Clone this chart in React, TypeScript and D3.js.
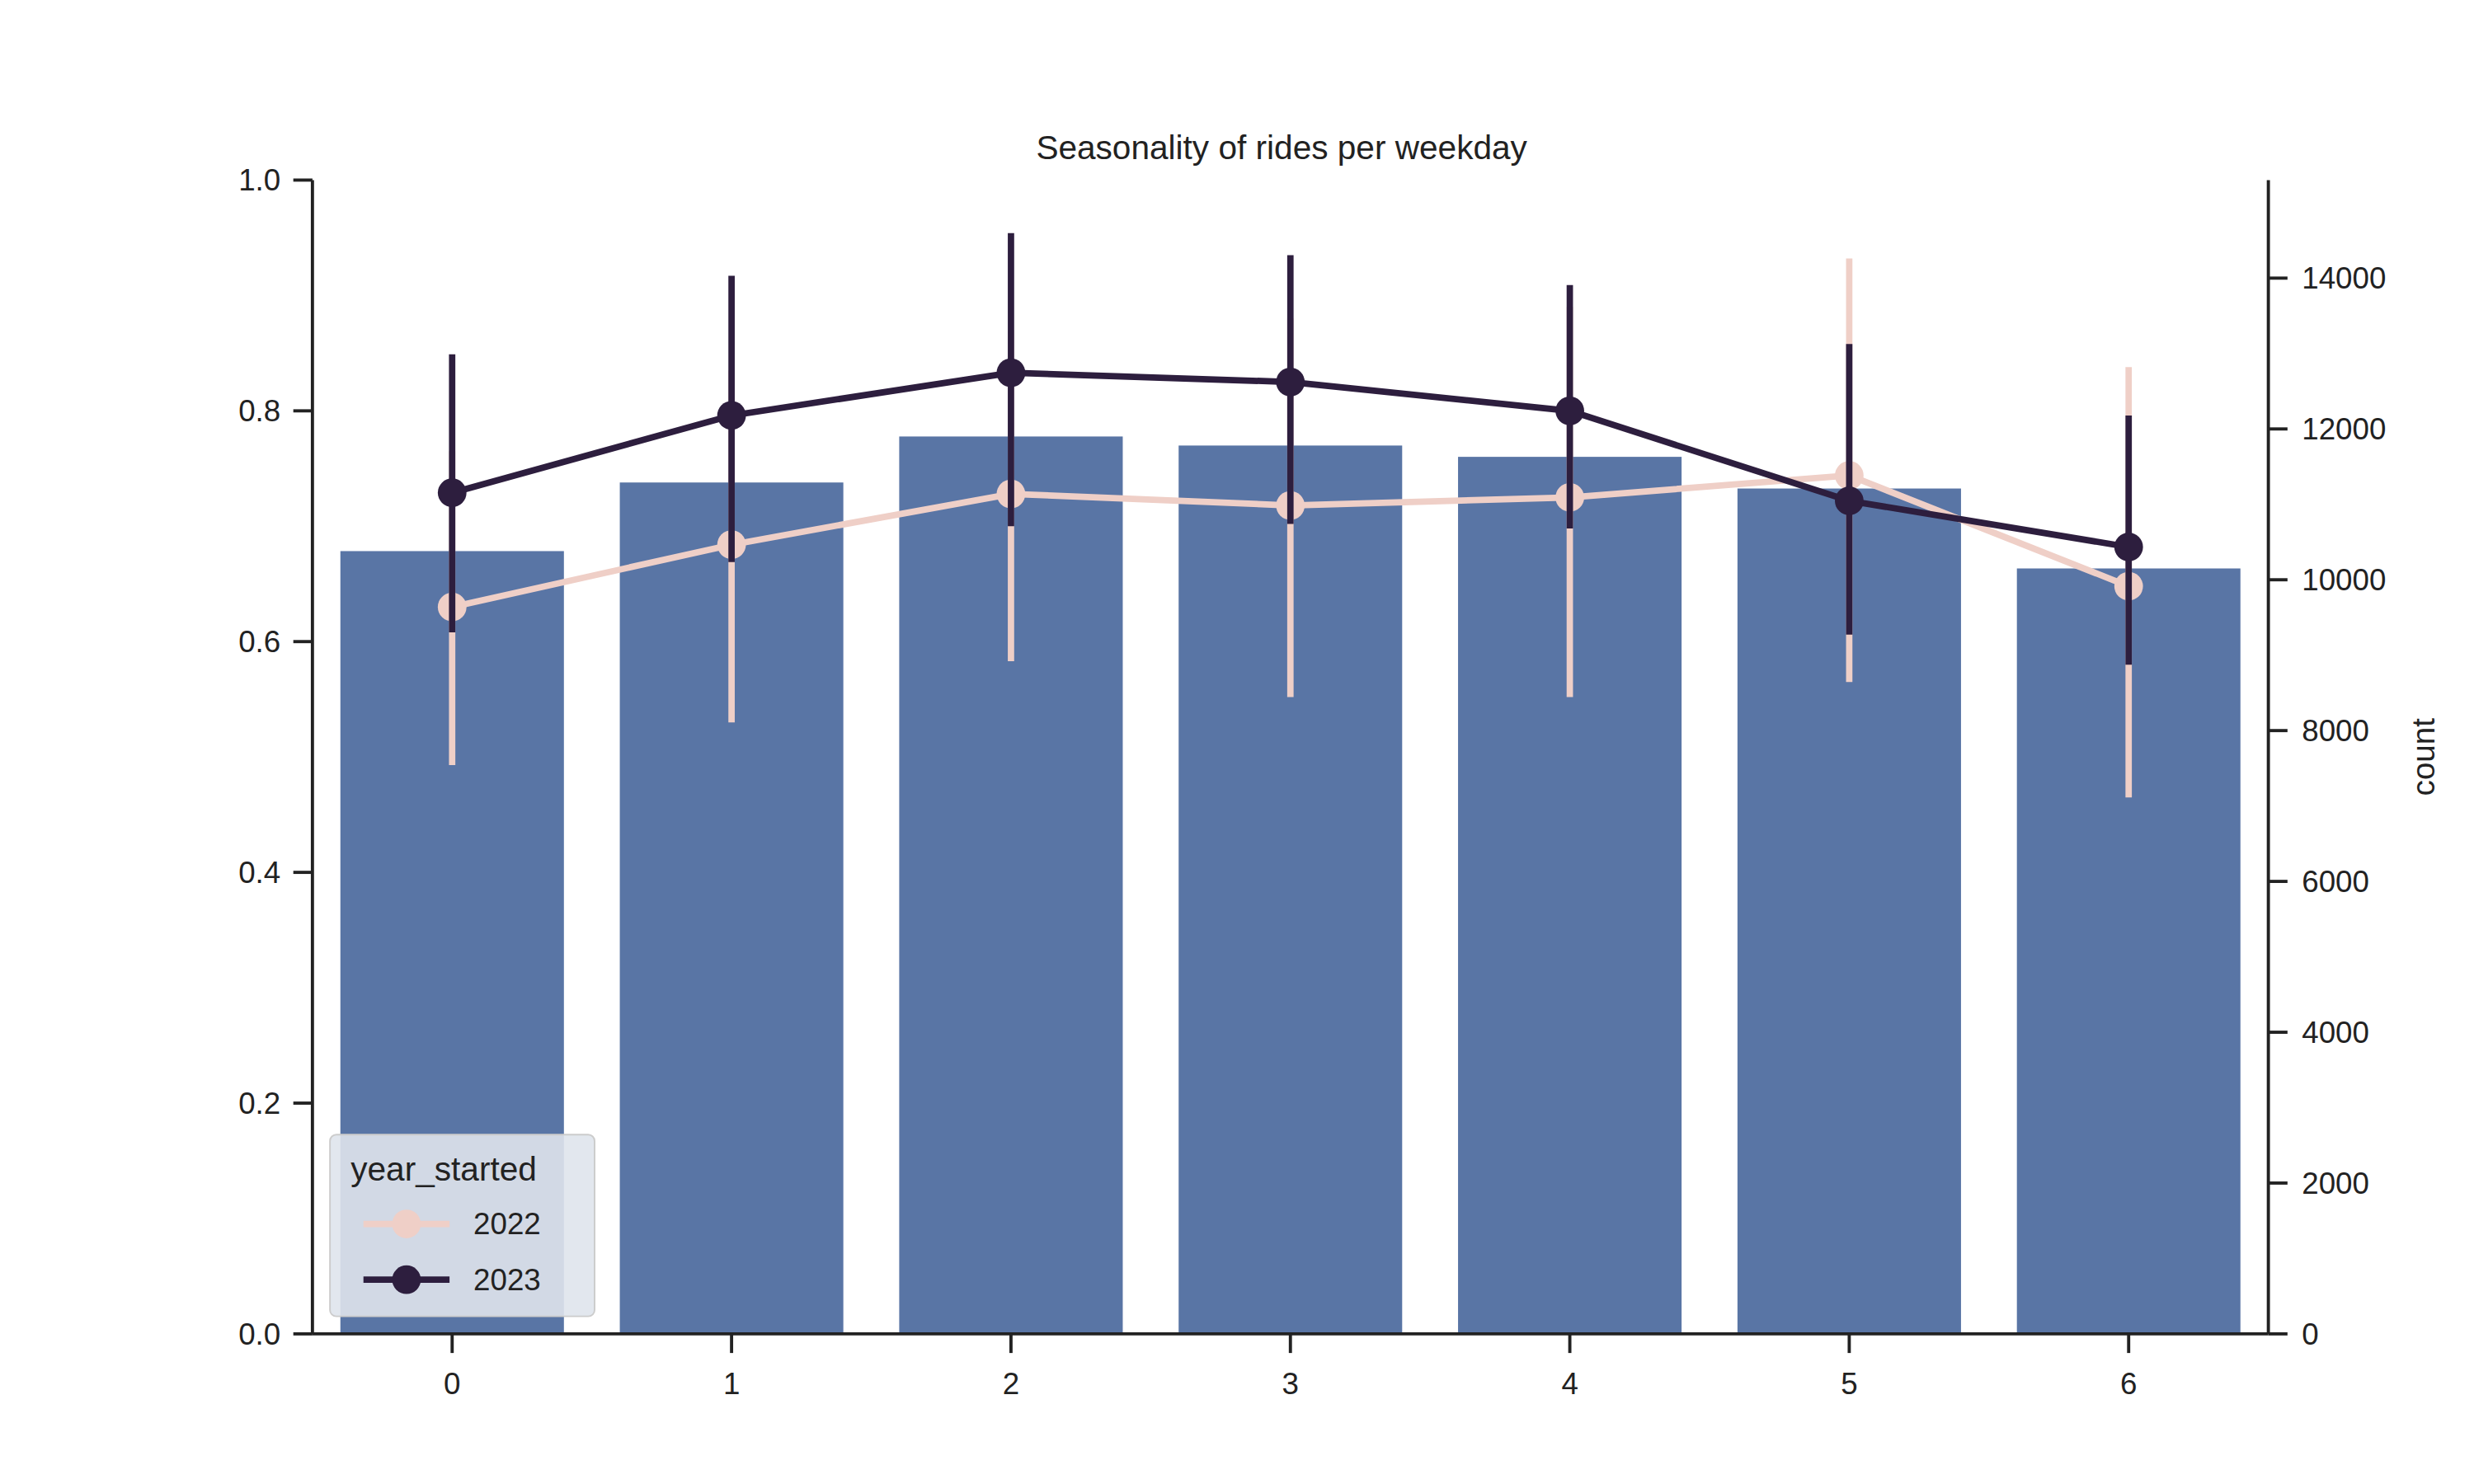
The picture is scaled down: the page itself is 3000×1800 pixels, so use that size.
import * as d3 from 'd3';
import React from 'react';

const weekdays = ['0', '1', '2', '3', '4', '5', '6'];
const counts = [10380, 11290, 11900, 11780, 11630, 11210, 10150];

const y2022 = [0.630, 0.684, 0.728, 0.718, 0.725, 0.744, 0.648];
const lo2022 = [0.493, 0.530, 0.583, 0.552, 0.552, 0.565, 0.465];
const hi2022 = [0.765, 0.835, 0.870, 0.880, 0.890, 0.932, 0.838];

const y2023 = [0.729, 0.796, 0.833, 0.825, 0.800, 0.722, 0.682];
const lo2023 = [0.608, 0.669, 0.700, 0.702, 0.698, 0.606, 0.580];
const hi2023 = [0.849, 0.917, 0.954, 0.935, 0.909, 0.858, 0.796];

const leftTicks = [0, 0.2, 0.4, 0.6, 0.8, 1.0];
const rightTicks = [0, 2000, 4000, 6000, 8000, 10000, 12000, 14000];

const C22 = '#efcfc7';
const C23 = '#2d1e3e';
const BAR = '#5975a5';
const FONT = 'Liberation Sans, Arial, sans-serif';

const App: React.FC = () => {
  const L = 196, R = 1423, T = 113, B = 837;
  const x = d3.scaleBand<string>().domain(weekdays).range([L, R]).paddingInner(0.2).paddingOuter(0.1);
  const yl = d3.scaleLinear().domain([0, 1]).range([B, T]);
  const yr = d3.scaleLinear().domain([0, 15300]).range([B, T]);
  const cx = (i: number) => (x(weekdays[i]) ?? 0) + x.bandwidth() / 2;
  const line = d3.line<number>().x((_d, i) => cx(i)).y(d => yl(d));

  const series = [
    { name: '2022', c: C22, v: y2022, lo: lo2022, hi: hi2022 },
    { name: '2023', c: C23, v: y2023, lo: lo2023, hi: hi2023 },
  ];

  return (
    <svg width={3000} height={1800} viewBox="0 0 1552 931.2"
      style={{ position: 'absolute', left: 0, top: 0, background: '#fff' }} fontFamily={FONT}>
      {counts.map((c, i) => (
        <rect key={i} x={x(weekdays[i])} width={x.bandwidth()} y={yr(c)} height={B - yr(c)} fill={BAR} />
      ))}
      {series.map(s => (
        <g key={s.name}>
          {s.v.map((_v, i) => (
            <line key={i} x1={cx(i)} x2={cx(i)} y1={yl(s.lo[i])} y2={yl(s.hi[i])} stroke={s.c} strokeWidth={4} />
          ))}
          <path d={line(s.v) ?? ''} fill="none" stroke={s.c} strokeWidth={4} />
          {s.v.map((v, i) => <circle key={i} cx={cx(i)} cy={yl(v)} r={9} fill={s.c} />)}
        </g>
      ))}
      {/* left axis */}
      <line x1={L} x2={L} y1={T} y2={B} stroke="#222" strokeWidth={2} />
      {leftTicks.map(t => (
        <g key={t} transform={`translate(${L},${yl(t)})`}>
          <line x1={-12} x2={0} stroke="#222" strokeWidth={2} />
          <text x={-20} dy="0.35em" textAnchor="end" fontSize={19} fill="#222">{t.toFixed(1)}</text>
        </g>
      ))}
      {/* bottom axis */}
      <line x1={L} x2={R} y1={B} y2={B} stroke="#222" strokeWidth={2} />
      {weekdays.map((w, i) => (
        <g key={w} transform={`translate(${cx(i)},${B})`}>
          <line y1={0} y2={12} stroke="#222" strokeWidth={2} />
          <text y={38} textAnchor="middle" fontSize={19} fill="#222">{w}</text>
        </g>
      ))}
      {/* right axis */}
      <line x1={R} x2={R} y1={T} y2={B} stroke="#222" strokeWidth={2} />
      {rightTicks.map(t => (
        <g key={t} transform={`translate(${R},${yr(t)})`}>
          <line x1={0} x2={12} stroke="#222" strokeWidth={2} />
          <text x={9 + 12} dy="0.35em" fontSize={19} fill="#222">{t}</text>
        </g>
      ))}
      <text transform={`translate(1527,${(T + B) / 2}) rotate(-90)`} textAnchor="middle" fontSize={20} fill="#222">count</text>
      <text x={804} y={100} textAnchor="middle" fontSize={21} fill="#222">Seasonality of rides per weekday</text>
      {/* legend */}
      <rect x={207} y={712} width={166} height={114} rx={4} fill="#dfe4ec" fillOpacity={0.9} stroke="#ccc" />
      <text x={220} y={741} fontSize={21} fill="#222">year_started</text>
      {series.map((s, i) => (
        <g key={s.name} transform={`translate(0,${768 + i * 35})`}>
          <line x1={228} x2={282} stroke={s.c} strokeWidth={4} />
          <circle cx={255} r={9} fill={s.c} />
          <text x={297} dy="0.35em" fontSize={19} fill="#222">{s.name}</text>
        </g>
      ))}
    </svg>
  );
};

export default App;
